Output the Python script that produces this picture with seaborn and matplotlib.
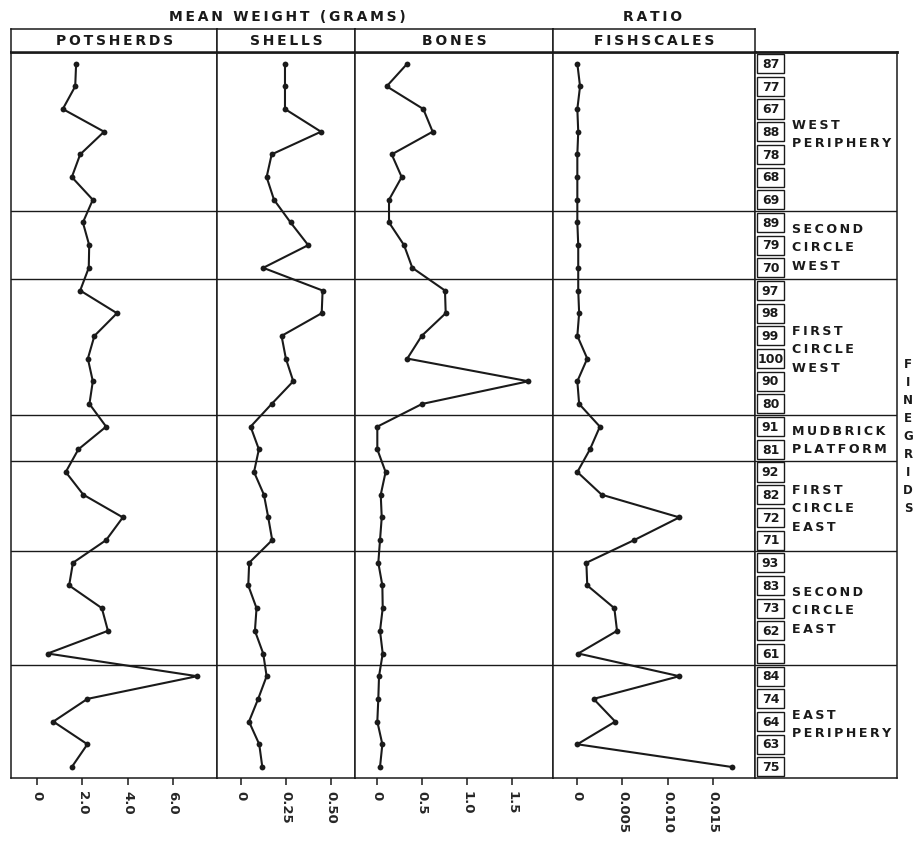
import matplotlib
matplotlib.use('Agg')
import matplotlib.pyplot as plt
import seaborn as sns
import pandas as pd
from matplotlib.patches import Rectangle

sns.set_style('white')
plt.rcParams['font.family'] = ['DejaVu Sans']

# finegrid order (top to bottom) and values
finegrids = ['87', '77', '67', '88', '78', '68', '69',
             '89', '79', '70',
             '97', '98', '99', '100', '90', '80',
             '91', '81',
             '92', '82', '72', '71',
             '93', '83', '73', '62', '61',
             '84', '74', '64', '63', '75']

potsherds = [1.72, 1.68, 1.13, 2.96, 1.90, 1.53, 2.46,
             2.02, 2.30, 2.28,
             1.90, 3.53, 2.53, 2.24, 2.46, 2.31,
             3.05, 1.82,
             1.26, 2.04, 3.79, 3.05,
             1.58, 1.41, 2.86, 3.13, 0.46,
             7.08, 2.22, 0.71, 2.22, 1.53]

shells = [0.243, 0.243, 0.243, 0.443, 0.169, 0.141, 0.182,
          0.274, 0.372, 0.122,
          0.452, 0.447, 0.224, 0.248, 0.289, 0.169,
          0.052, 0.098,
          0.071, 0.126, 0.150, 0.172,
          0.044, 0.039, 0.085, 0.076, 0.122,
          0.141, 0.094, 0.043, 0.100, 0.117]

bones = [0.333, 0.104, 0.511, 0.615, 0.160, 0.271, 0.130,
         0.130, 0.297, 0.389,
         0.752, 0.760, 0.493, 0.333, 1.679, 0.497,
         0.0, 0.0,
         0.092, 0.038, 0.049, 0.030,
         0.011, 0.056, 0.060, 0.030, 0.060,
         0.019, 0.011, 0.0, 0.056, 0.030]

fishscales = [0.0, 0.0003, 0.0, 0.0001, 0.0, 0.0, 0.0,
              0.0, 0.0001, 0.0001,
              0.0001, 0.0002, 0.0, 0.0011, 0.0, 0.0002,
              0.0025, 0.0014,
              0.0, 0.0027, 0.0113, 0.0063,
              0.0010, 0.0011, 0.0041, 0.0044, 0.0001,
              0.0113, 0.0018, 0.0042, 0.0, 0.0171]

region_names = ['WEST\nPERIPHERY', 'SECOND\nCIRCLE\nWEST', 'FIRST\nCIRCLE\nWEST',
                'MUDBRICK\nPLATFORM', 'FIRST\nCIRCLE\nEAST', 'SECOND\nCIRCLE\nEAST',
                'EAST\nPERIPHERY']
region_sizes = [7, 3, 6, 2, 4, 5, 5]

pot_ticks = [0, 2, 4, 6]
pot_labels = ['0', '2.0', '4.0', '6.0']
shell_ticks = [0, 0.25, 0.5]
shell_labels = ['0', '0.25', '0.50']
bone_ticks = [0, 0.5, 1.0, 1.5]
bone_labels = ['0', '0.5', '1.0', '1.5']
fish_ticks = [0, 0.005, 0.010, 0.015]
fish_labels = ['0', '0.005', '0.010', '0.015']

df = pd.DataFrame({'row': range(len(finegrids)), 'finegrid': finegrids,
                   'potsherds': potsherds, 'shells': shells,
                   'bones': bones, 'fishscales': fishscales})

W, H = 918, 842
fig = plt.figure(figsize=(W / 100, H / 100), dpi=100)
INK = '#1a1a1a'
TOP, BOT, HEAD = 52.3, 778.3, 29.3


def rect(x0, y0, x1, y1):
    return [x0 / W, 1 - y1 / H, (x1 - x0) / W, (y1 - y0) / H]


def track(s):
    # spread letters a little, like the lettering of the original
    return '\n'.join('\u2009'.join(line) for line in s.split('\n'))


# group boundaries between regions
bounds = []
acc = 0
for s in region_sizes[:-1]:
    acc += s
    bounds.append(acc - 0.5)

panels = [
    ('POTSHERDS', 'potsherds', pot_ticks, pot_labels, (-1.165, 7.975), (11, 217.3)),
    ('SHELLS', 'shells', shell_ticks, shell_labels, (-0.133, 0.632), (217.3, 355)),
    ('BONES', 'bones', bone_ticks, bone_labels, (-0.248, 1.949), (355, 552.7)),
    ('FISHSCALES', 'fishscales', fish_ticks, fish_labels, (-0.00273, 0.01969), (552.7, 755)),
]

n = len(finegrids)
for title, col, ticks, labels, xlim, (x0, x1) in panels:
    ax = fig.add_axes(rect(x0, TOP, x1, BOT))
    sns.lineplot(data=df, x=col, y='row', orient='y', sort=False, color=INK,
                 lw=1.5, marker='o', markersize=4.2, markeredgewidth=0,
                 legend=False, ax=ax)
    ax.set_xlim(*xlim)
    ax.set_ylim(n - 0.5, -0.5)
    ax.set_yticks([])
    ax.set_xlabel('')
    ax.set_ylabel('')
    ax.set_xticks(ticks, labels)
    ax.tick_params(axis='x', bottom=True, length=5, width=1.1, pad=4,
                   direction='out', color=INK, labelsize=9.5, labelrotation=-90)
    for t in ax.get_xticklabels():
        t.set_fontweight('bold')
    for b in bounds:
        ax.axhline(b, color=INK, lw=1.0)
    for sp in ax.spines.values():
        sp.set_color(INK)
        sp.set_linewidth(1.1)
    ax.spines['top'].set_linewidth(2.0)

    hax = fig.add_axes(rect(x0, HEAD, x1, TOP))
    hax.set_xticks([])
    hax.set_yticks([])
    for sp in hax.spines.values():
        sp.set_color(INK)
        sp.set_linewidth(1.1)
    hax.text(0.5, 0.5, track(title), ha='center', va='center', fontsize=10,
             fontweight='bold', color=INK, transform=hax.transAxes)

fig.text(287 / W, 1 - 17 / H, track('MEAN WEIGHT (GRAMS)'), ha='center', va='center',
         fontsize=10, fontweight='bold', color=INK)
fig.text(653 / W, 1 - 17 / H, track('RATIO'), ha='center', va='center',
         fontsize=10, fontweight='bold', color=INK)

# right-hand box: finegrid numbers and region names
rax = fig.add_axes(rect(755, TOP, 897, BOT))
rax.set_xlim(0, 142)
rax.set_ylim(n - 0.5, -0.5)
rax.set_xticks([])
rax.set_yticks([])
for sp in rax.spines.values():
    sp.set_color(INK)
    sp.set_linewidth(1.1)
rax.spines['top'].set_linewidth(2.0)
for b in bounds:
    rax.axhline(b, color=INK, lw=1.0)
for i, g in enumerate(finegrids):
    rax.add_patch(Rectangle((2, i - 0.42), 27, 0.84, fill=False, ec=INK, lw=1.0))
    rax.text(15.5, i + 0.03, g, ha='center', va='center', fontsize=9,
             fontweight='bold', color=INK)
start = 0
for name, s in zip(region_names, region_sizes):
    center = start + (s - 1) / 2 + 0.12
    rax.text(37, center, track(name), ha='left', va='center', fontsize=9.1,
             fontweight='bold', color=INK, linespacing=1.55)
    start += s

fig.text(908 / W, 1 - 437 / H, '\n'.join('FINEGRIDS'), ha='center', va='center',
         fontsize=8.5, fontweight='bold', color=INK, linespacing=1.5)

fig.savefig('out.png', dpi=100, facecolor='white')
